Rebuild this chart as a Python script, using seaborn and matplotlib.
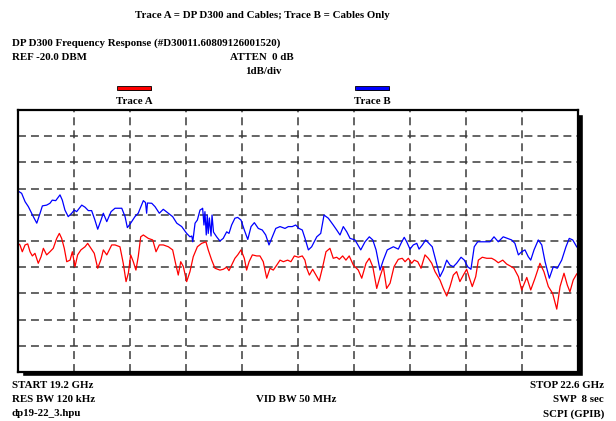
import numpy as np
import pandas as pd
import seaborn as sns
import matplotlib
matplotlib.use("Agg")
import matplotlib.pyplot as plt
from matplotlib.patches import Rectangle

# Trace A (DP D300 + cables), GHz / dBm
freq_a = [19.200, 19.212, 19.226, 19.243, 19.259, 19.273, 19.287, 19.303, 19.323, 19.340,
          19.354, 19.374, 19.394, 19.414, 19.435, 19.451, 19.465, 19.481, 19.496, 19.516,
          19.530, 19.546, 19.562, 19.582, 19.607, 19.623, 19.643, 19.663, 19.684, 19.704,
          19.718, 19.739, 19.769, 19.789, 19.819, 19.839, 19.856, 19.870, 19.884, 19.900,
          19.916, 19.930, 19.945, 19.961, 19.991, 20.018, 20.038, 20.058, 20.082, 20.113,
          20.139, 20.159, 20.173, 20.188, 20.204, 20.224, 20.244, 20.264, 20.289, 20.315,
          20.341, 20.355, 20.376, 20.396, 20.426, 20.446, 20.467, 20.481, 20.497, 20.517,
          20.534, 20.554, 20.574, 20.588, 20.603, 20.623, 20.649, 20.669, 20.689, 20.710,
          20.730, 20.750, 20.771, 20.791, 20.811, 20.837, 20.857, 20.878, 20.902, 20.926,
          20.942, 20.953, 20.969, 20.989, 21.009, 21.029, 21.050, 21.070, 21.094, 21.114,
          21.135, 21.151, 21.171, 21.191, 21.211, 21.236, 21.266, 21.287, 21.313, 21.333,
          21.354, 21.378, 21.398, 21.418, 21.438, 21.459, 21.483, 21.509, 21.533, 21.550,
          21.570, 21.590, 21.606, 21.627, 21.647, 21.671, 21.691, 21.712, 21.732, 21.762,
          21.782, 21.803, 21.823, 21.843, 21.863, 21.883, 21.904, 21.924, 21.938, 21.958,
          21.979, 21.995, 22.019, 22.046, 22.076, 22.096, 22.116, 22.143, 22.167, 22.187,
          22.211, 22.238, 22.258, 22.289, 22.313, 22.339, 22.369, 22.393, 22.420, 22.446,
          22.471, 22.491, 22.515, 22.535, 22.551, 22.571, 22.592, 22.600]
level_a = [-25.09, -25.15, -25.41, -25.15, -25.11, -25.41, -25.57, -25.47, -25.85, -25.60,
           -25.28, -25.53, -25.41, -25.28, -24.90, -24.71, -24.90, -25.28, -25.79, -25.73,
           -25.41, -25.98, -25.53, -25.34, -25.22, -25.09, -25.28, -25.47, -26.04, -25.70,
           -25.34, -25.53, -25.15, -25.15, -25.22, -25.85, -26.55, -26.23, -25.53, -25.79,
           -26.11, -25.60, -24.84, -24.77, -24.90, -24.96, -25.41, -25.15, -25.15, -25.22,
           -25.34, -25.92, -26.30, -25.79, -25.98, -26.55, -26.17, -25.60, -25.22, -25.09,
           -25.03, -25.34, -25.73, -26.04, -26.11, -26.08, -26.00, -26.13, -25.92, -25.66,
           -25.53, -25.34, -25.66, -26.11, -25.79, -25.53, -25.57, -25.57, -25.79, -26.42,
           -26.04, -26.11, -25.92, -25.73, -25.79, -25.73, -25.79, -25.57, -25.62, -25.57,
           -25.73, -26.04, -26.30, -26.08, -26.30, -26.52, -25.98, -25.41, -25.28, -25.66,
           -25.62, -25.70, -25.57, -25.73, -25.57, -25.92, -26.11, -26.42, -25.85, -25.66,
           -25.98, -26.81, -26.36, -25.98, -26.81, -26.61, -25.98, -25.70, -25.66, -25.79,
           -25.66, -25.85, -25.73, -25.79, -26.04, -25.53, -25.66, -25.85, -26.17, -26.49,
           -26.81, -27.10, -26.74, -26.30, -26.17, -26.55, -26.30, -26.08, -26.36, -26.74,
           -26.36, -25.73, -25.62, -25.66, -25.66, -25.73, -25.83, -25.73, -25.88, -25.95,
           -26.04, -26.36, -26.87, -26.39, -26.87, -26.42, -25.85, -26.17, -26.74, -27.00,
           -27.60, -26.74, -26.23, -26.68, -26.94, -26.49, -26.26, -26.22]

# Trace B (cables only), GHz / dBm
freq_b = [19.200, 19.222, 19.243, 19.263, 19.293, 19.314, 19.334, 19.348, 19.374, 19.394,
          19.408, 19.429, 19.455, 19.469, 19.485, 19.505, 19.526, 19.542, 19.556, 19.587,
          19.607, 19.627, 19.647, 19.667, 19.684, 19.704, 19.718, 19.739, 19.765, 19.789,
          19.830, 19.850, 19.864, 19.884, 19.910, 19.930, 19.961, 19.974, 19.981, 19.986,
          20.012, 20.032, 20.058, 20.082, 20.113, 20.139, 20.164, 20.194, 20.224, 20.244,
          20.255, 20.261, 20.275, 20.289, 20.305, 20.315, 20.321, 20.329, 20.335, 20.343,
          20.349, 20.355, 20.362, 20.372, 20.378, 20.387, 20.406, 20.426, 20.446, 20.467,
          20.481, 20.497, 20.517, 20.534, 20.554, 20.574, 20.595, 20.615, 20.635, 20.659,
          20.683, 20.704, 20.724, 20.744, 20.765, 20.791, 20.821, 20.841, 20.865, 20.886,
          20.906, 20.926, 20.942, 20.963, 20.983, 21.014, 21.038, 21.058, 21.084, 21.114,
          21.135, 21.155, 21.175, 21.196, 21.216, 21.246, 21.281, 21.307, 21.333, 21.354,
          21.374, 21.398, 21.418, 21.442, 21.479, 21.509, 21.530, 21.545, 21.560, 21.580,
          21.600, 21.621, 21.635, 21.655, 21.675, 21.695, 21.715, 21.736, 21.762, 21.782,
          21.803, 21.823, 21.843, 21.863, 21.890, 21.910, 21.930, 21.950, 21.970, 21.991,
          22.031, 22.066, 22.090, 22.116, 22.146, 22.171, 22.197, 22.217, 22.238, 22.258,
          22.278, 22.298, 22.313, 22.333, 22.359, 22.380, 22.400, 22.426, 22.450, 22.474,
          22.501, 22.527, 22.547, 22.568, 22.592, 22.600]
level_b = [-23.09, -23.18, -23.50, -23.69, -24.07, -24.32, -23.94, -23.66, -23.63, -23.56,
           -23.44, -23.46, -23.24, -23.44, -23.82, -24.07, -23.94, -23.82, -23.88, -23.63,
           -23.71, -23.84, -23.84, -24.20, -24.55, -24.20, -23.94, -24.26, -23.88, -23.75,
           -23.75, -24.07, -24.49, -24.32, -24.07, -23.94, -23.46, -23.53, -23.94, -23.55,
           -23.56, -23.69, -23.94, -23.79, -23.94, -24.07, -24.32, -24.45, -24.71, -24.84,
           -24.81, -25.03, -24.32, -24.20, -23.82, -23.78, -23.75, -24.39, -23.88, -24.77,
           -24.01, -24.71, -24.12, -24.81, -24.01, -24.66, -24.84, -25.00, -24.90, -24.65,
           -24.71, -24.39, -24.13, -24.10, -24.20, -24.58, -24.94, -24.45, -24.30, -24.52,
           -24.58, -24.77, -25.15, -24.84, -24.52, -24.45, -24.52, -24.45, -24.45, -24.39,
           -24.52, -24.58, -24.89, -25.34, -25.22, -24.84, -24.71, -24.01, -24.13, -24.39,
           -24.58, -24.77, -24.45, -24.65, -24.90, -24.96, -25.34, -25.03, -24.84, -24.96,
           -25.34, -26.11, -25.73, -25.34, -25.22, -25.31, -25.03, -24.86, -25.03, -25.31,
           -25.15, -25.09, -25.31, -25.15, -24.96, -25.09, -25.22, -25.73, -26.36, -26.11,
           -25.73, -25.92, -25.98, -25.85, -25.62, -25.73, -25.98, -26.08, -25.22, -25.03,
           -25.03, -25.03, -24.84, -25.03, -24.84, -24.90, -24.96, -25.09, -25.53, -25.41,
           -25.34, -25.60, -25.73, -25.34, -24.96, -25.15, -25.79, -26.42, -25.98, -26.04,
           -25.73, -25.22, -24.90, -24.96, -25.22, -25.27]

ref_level = -20.0
db_per_div = 1.0
start_ghz, stop_ghz = 19.2, 22.6

df = pd.concat([
    pd.DataFrame({"freq": freq_a, "level": level_a, "trace": "Trace A"}),
    pd.DataFrame({"freq": freq_b, "level": level_b, "trace": "Trace B"}),
])

sns.set_style("white")
plt.rcParams["font.family"] = ["Liberation Serif", "DejaVu Serif"]
plt.rcParams["font.weight"] = "bold"

W, H = 616, 421
fig = plt.figure(figsize=(W / 100, H / 100), dpi=100)


def fx(px):
    return px / W


def fy(py):
    return 1 - py / H


ax = fig.add_axes([fx(18), fy(372), fx(578) - fx(18), fy(110) - fy(372)])
ax.set_zorder(1)

# drop shadow behind the screen frame
fig.patches.append(Rectangle((fx(22), fy(376)), fx(578) - fx(18) + fx(1), fy(110) - fy(372),
                             transform=fig.transFigure, facecolor="black", zorder=0))

sns.lineplot(data=df, x="freq", y="level", hue="trace",
             palette={"Trace A": "#ff0000", "Trace B": "#0000ff"},
             estimator=None, sort=False, legend=False, linewidth=0.9, ax=ax)
for ln in ax.lines:
    ln.set_solid_joinstyle("round")

ax.set_xlim(start_ghz, stop_ghz)
ax.set_ylim(ref_level - 10 * db_per_div, ref_level)
ax.set_xticks(np.linspace(start_ghz, stop_ghz, 11))
ax.set_yticks(np.linspace(ref_level - 10 * db_per_div, ref_level, 11))
ax.tick_params(length=0, labelbottom=False, labelleft=False)
ax.grid(True, color="#3a3a3a", linewidth=1.1, linestyle=(0, (5.2, 3.3)))
ax.set_axisbelow(True)
ax.set_xlabel("")
ax.set_ylabel("")
ax.set_facecolor("white")
for s in ax.spines.values():
    s.set_visible(True)
    s.set_color("black")
    s.set_linewidth(1.6)

fs = 7.8
txt = dict(fontsize=fs, fontweight="bold", color="black", transform=fig.transFigure, va="center")
fig.text(fx(262), fy(15), "Trace A = DP D300 and Cables; Trace B = Cables Only", ha="center", **txt)
fig.text(fx(12), fy(43), "DP D300 Frequency Response (#D30011.60809126001520)", ha="left", **txt)
fig.text(fx(12), fy(57), "REF -20.0 DBM", ha="left", **txt)
fig.text(fx(230), fy(57), "ATTEN  0 dB", ha="left", **txt)
fig.text(fx(245), fy(71), "1dB/div", ha="left", **txt)
fig.text(fx(116), fy(101), "Trace A", ha="left", **txt)
fig.text(fx(354), fy(101), "Trace B", ha="left", **txt)

fig.text(fx(12), fy(386), "START 19.2 GHz", ha="left", **txt)
fig.text(fx(12), fy(400), "RES BW 120 kHz", ha="left", **txt)
fig.text(fx(12), fy(414), "dp19-22_3.hpu", ha="left", **txt)
fig.text(fx(256), fy(400), "VID BW 50 MHz", ha="left", **txt)
fig.text(fx(604), fy(386), "STOP 22.6 GHz", ha="right", **txt)
fig.text(fx(604), fy(400), "SWP  8 sec", ha="right", **txt)
fig.text(fx(604), fy(414), "SCPI (GPIB)", ha="right", **txt)

# legend swatches
for x0, col in [(117, "#ff0000"), (355, "#0000ff")]:
    fig.patches.append(Rectangle((fx(x0 + 1), fy(91)), fx(34), fy(86) - fy(90),
                                 transform=fig.transFigure, facecolor="black", zorder=2))
    fig.patches.append(Rectangle((fx(x0), fy(90)), fx(34), fy(86) - fy(90),
                                 transform=fig.transFigure, facecolor=col,
                                 edgecolor="black", linewidth=0.6, zorder=3))

fig.savefig("out.png", dpi=100)
